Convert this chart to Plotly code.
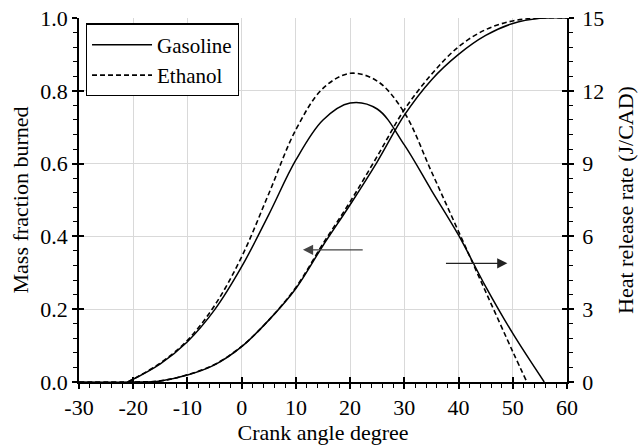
import plotly.graph_objects as go

# Crank angle (deg) and readings from the reference
MFB_X = [-30, -20, -15, -10, -5, 0, 5, 10, 15, 20, 25, 30, 35, 40, 45, 50, 55, 60]
MFB_GASOLINE = [0, 0, 0.003, 0.019, 0.047, 0.097, 0.17, 0.257, 0.375, 0.487,
                0.605, 0.733, 0.83, 0.9, 0.952, 0.985, 0.999, 1.0]
MFB_ETHANOL = [0, 0, 0.003, 0.02, 0.048, 0.098, 0.17, 0.26, 0.38, 0.495,
               0.62, 0.748, 0.845, 0.921, 0.968, 0.992, 1.0, 1.0]

# Heizverlauf: nur der Bereich > 0 (davor/danach liegt die Kurve auf der Achse)
HRR_GAS_X = [-21, -15, -10, -5, 0, 5, 10, 15, 20, 25, 30, 35,
             40, 45, 50, 55.8]
HRR_GASOLINE = [0, 0.75, 1.66, 2.97, 4.75, 6.9, 9.15, 10.8, 11.5,
                11.25, 9.77, 7.9, 6.05, 3.93, 2.0, 0]

HRR_ETH_X = [-21, -15, -10, -5, 0, 5, 10, 15, 20, 25, 30, 35,
             40, 45, 50, 52.6]
HRR_ETHANOL = [0, 0.78, 1.72, 3.15, 5.16, 7.76, 10.4, 12.1, 12.72,
               12.4, 11.1, 8.67, 6.2, 3.72, 1.25, 0]

X_TICKS = [-30, -20, -10, 0, 10, 20, 30, 40, 50, 60]
X_LABELS = ["-30", "-20", "-10", "0", "10", "20", "30", "40", "50", "60"]

FONT = "Liberation Serif, Times New Roman, serif"

fig = go.Figure()

# --- Massenanteil (linke Achse) ---
fig.add_trace(go.Scatter(
    x=MFB_X, y=MFB_GASOLINE, mode="lines", name="Gasoline",
    legendgroup="gas", line=dict(color="black", width=1.5, shape="spline"),
))
fig.add_trace(go.Scatter(
    x=MFB_X, y=MFB_ETHANOL, mode="lines", name="Ethanol",
    legendgroup="eth",
    line=dict(color="black", width=1.6, dash="5px,3px", shape="spline"),
))

# --- Heizverlauf (rechte Achse) ---
fig.add_trace(go.Scatter(
    x=HRR_GAS_X, y=HRR_GASOLINE, mode="lines", yaxis="y2",
    legendgroup="gas", showlegend=False,
    line=dict(color="black", width=1.5, shape="spline"),
))
fig.add_trace(go.Scatter(
    x=HRR_ETH_X, y=HRR_ETHANOL, mode="lines", yaxis="y2",
    legendgroup="eth", showlegend=False,
    line=dict(color="black", width=1.6, dash="5px,3px", shape="spline"),
))

# Dummy-Spuren für die Kreuz-Ticks (innen)
fig.add_trace(go.Scatter(x=[None], y=[None], xaxis="x3", yaxis="y3",
                         showlegend=False, hoverinfo="skip"))
fig.add_trace(go.Scatter(x=[None], y=[None], xaxis="x3", yaxis="y4",
                         showlegend=False, hoverinfo="skip"))

# Pfeile
fig.add_annotation(x=11.3, y=0.363, ax=22.6, ay=0.363,
                   xref="x", yref="y", axref="x", ayref="y",
                   showarrow=True, arrowhead=2, arrowsize=1.7, arrowwidth=1.2,
                   arrowcolor="#444444", text="")
fig.add_annotation(x=49.0, y=0.326, ax=37.4, ay=0.326,
                   xref="x", yref="y", axref="x", ayref="y",
                   showarrow=True, arrowhead=2, arrowsize=1.7, arrowwidth=1.2,
                   arrowcolor="#222222", text="")

tick_font = dict(family=FONT, size=22, color="black")

fig.update_layout(
    width=638, height=446,
    margin=dict(l=79, r=71, t=18, b=64),
    plot_bgcolor="white", paper_bgcolor="white",
    font=dict(family=FONT, size=22, color="black"),
    xaxis=dict(
        range=[-30, 60], tickvals=X_TICKS, ticktext=X_LABELS,
        title=dict(text="Crank angle degree", font=tick_font, standoff=2),
        showgrid=True, gridcolor="#d9d9d9", gridwidth=1,
        showline=True, linecolor="black", linewidth=1.5,
        ticks="outside", ticklen=5, tickwidth=1.5, tickcolor="black",
        minor=dict(dtick=2, tick0=-30, ticks="outside", ticklen=4, tickwidth=1,
                   tickcolor="black", showgrid=False),
        tickfont=tick_font, zeroline=False, automargin=False,
    ),
    yaxis=dict(
        range=[0, 1.0], dtick=0.2, tickformat=".1f",
        title=dict(text="Mass fraction burned", font=tick_font, standoff=6),
        showgrid=True, gridcolor="#d9d9d9", gridwidth=1,
        showline=True, linecolor="black", linewidth=1.5,
        ticks="outside", ticklen=5, tickwidth=1.5, tickcolor="black",
        minor=dict(dtick=0.04, ticks="outside", ticklen=4, tickwidth=1,
                   tickcolor="black", showgrid=False),
        tickfont=tick_font, zeroline=False, automargin=False,
    ),
    yaxis2=dict(
        range=[0, 15], dtick=3, overlaying="y", side="right",
        title=dict(text="Heat release rate (J/CAD)", font=tick_font, standoff=14),
        showgrid=False,
        showline=True, linecolor="black", linewidth=1.5,
        ticks="outside", ticklen=5, tickwidth=1.5, tickcolor="black",
        ticklabelstandoff=4,
        minor=dict(dtick=0.6, ticks="outside", ticklen=4, tickwidth=1,
                   tickcolor="black", showgrid=False),
        tickfont=tick_font, zeroline=False, automargin=False,
    ),
    xaxis3=dict(
        range=[-30, 60], dtick=10, tick0=-30, overlaying="x", anchor="y3",
        ticks="inside", ticklen=5, tickwidth=1.5, tickcolor="black",
        showticklabels=False, showgrid=False, showline=False, zeroline=False,
        automargin=False,
    ),
    yaxis3=dict(
        range=[0, 1.0], dtick=0.2, overlaying="y", side="left", anchor="x3",
        ticks="inside", ticklen=5, tickwidth=1.5, tickcolor="black",
        showticklabels=False, showgrid=False, showline=False, zeroline=False,
        automargin=False,
    ),
    yaxis4=dict(
        range=[0, 15], dtick=3, overlaying="y", side="right", anchor="x3",
        ticks="inside", ticklen=5, tickwidth=1.5, tickcolor="black",
        showticklabels=False, showgrid=False, showline=False, zeroline=False,
        automargin=False,
    ),
    legend=dict(
        x=0.014, y=0.985, xanchor="left", yanchor="top",
        bgcolor="white", bordercolor="black", borderwidth=1.2,
        font=dict(family=FONT, size=21, color="black"),
        tracegroupgap=0, itemwidth=60,
    ),
    showlegend=True,
)

# Seitenrand des Body entfernen, damit die Figur bei (0, 0) beginnt
fig.write_html("out.html", config={"displayModeBar": False},
               post_script="document.body.style.margin='0';")
